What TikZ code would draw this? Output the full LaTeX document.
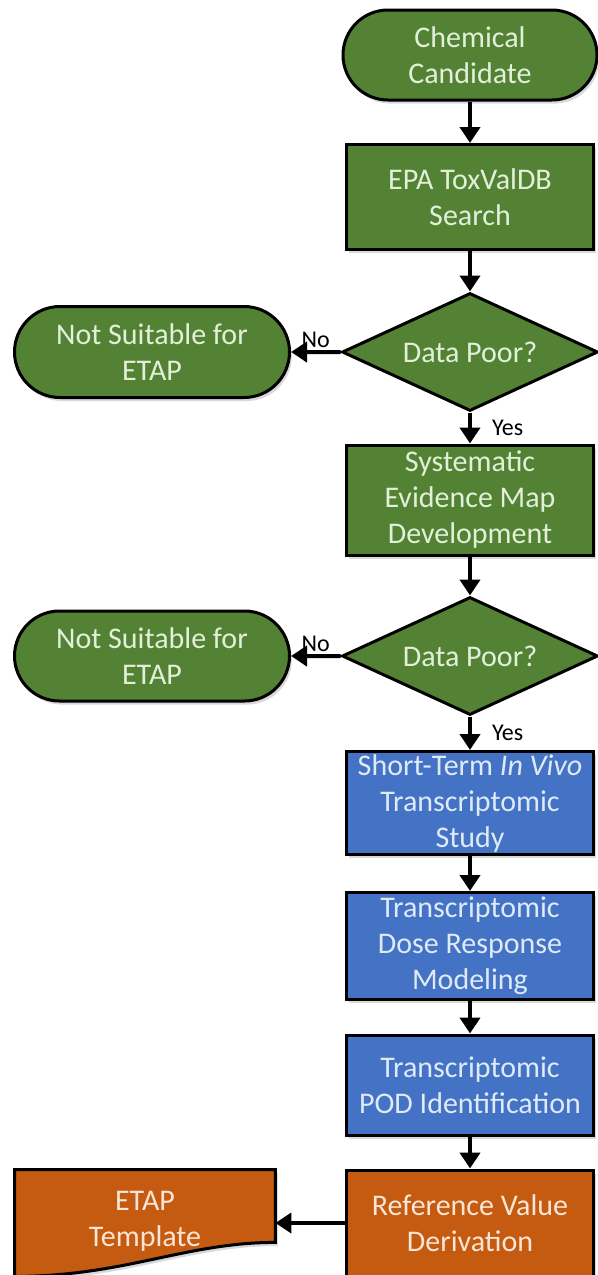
\documentclass[tikz,border=0pt]{standalone}
\usepackage{fontspec}
\setmainfont{Carlito}
\usetikzlibrary{shapes.geometric, shapes.misc, shadows, arrows.meta}
\definecolor{leafgreen}{HTML}{548235}
\definecolor{paleleaf}{HTML}{E2F0D9}
\definecolor{officeblue}{HTML}{4472C4}
\definecolor{paleblue}{HTML}{DEEBF7}
\definecolor{rust}{HTML}{C55A11}
\definecolor{palerust}{HTML}{FBE5D6}

\begin{document}
\begin{tikzpicture}[x=0.5pt, y=-0.5pt, >={Triangle[width=10pt, length=8pt]},
        shade/.style={drop shadow={shadow xshift=1.2pt, shadow yshift=-1.8pt, opacity=0.3}},
        stepbox/.style={rectangle, draw=black, line width=1.5pt, align=center, inner sep=0pt,
            minimum width=123.5pt, shade},
        terminal/.style={rounded rectangle, draw=black, line width=1.5pt, align=center, inner sep=0pt,
            fill=leafgreen, text=paleleaf, shade},
        decision/.style={diamond, aspect=2.17, draw=black, line width=1.5pt, align=center, inner sep=0pt,
            minimum width=128pt, minimum height=59pt, fill=leafgreen, text=paleleaf},
        greenbox/.style={stepbox, fill=leafgreen, text=paleleaf},
        bluebox/.style={stepbox, fill=officeblue, text=paleblue},
        rustbox/.style={stepbox, fill=rust, text=palerust},
        flow/.style={->, line width=2pt}]
        \fontsize{15}{18}\selectfont
        \useasboundingbox (0, 0) rectangle (598, 1275);

        \node [terminal, minimum width=127pt, minimum height=45pt] (chem) at (470, 55) {Chemical\\Candidate};
        \node [greenbox, minimum height=52.5pt] (tvdb) at (470, 197) {EPA ToxValDB\\Search};
        \node [decision] (poor1) at (470, 352) {Data Poor?};
        \node [terminal, minimum width=137.5pt, minimum height=45.5pt] (unfit1) at (152, 352) {Not Suitable for\\ETAP};
        \node [greenbox, minimum height=55pt] (sem) at (470, 500) {Systematic\\Evidence Map\\Development};
        \node [decision] (poor2) at (470, 656) {Data Poor?};
        \node [terminal, minimum width=137.5pt, minimum height=45pt] (unfit2) at (152, 656) {Not Suitable for\\ETAP};

        \node [bluebox, minimum height=51.5pt] (study) at (470, 803) {Short-Term \emph{In Vivo}\\Transcriptomic\\Study};
        \node [bluebox, minimum height=53.5pt] (dose) at (470, 946) {Transcriptomic\\Dose Response\\Modeling};
        \node [bluebox, minimum height=50pt] (pod) at (470, 1085) {Transcriptomic\\POD Identification};

        \node [rustbox, minimum height=53pt] (refval) at (470, 1223) {Reference Value\\Derivation};
        \node [align=center, inner sep=0pt, minimum width=130pt, minimum height=53pt, text=palerust] (tmpl) at (145, 1223) {};
        \draw [line width=1.5pt, fill=rust, shade] (tmpl.north west) -- (tmpl.north east) -- ([yshift=17pt]tmpl.south east)
            .. controls ([xshift=-45pt, yshift=17pt]tmpl.south east) and ([xshift=55pt]tmpl.south west) .. (tmpl.south west) -- cycle;
        \node [align=center, text=palerust] at ([yshift=1pt]tmpl.center) {ETAP\\Template};

        \draw [flow] (chem) -- (tvdb);
        \draw [flow] (tvdb) -- (poor1);
        \fontsize{12}{14}\selectfont
        \draw [flow] (poor1) -- (unfit1) node [midway, above, inner sep=1pt] {No};
        \draw [flow] (poor1) -- (sem) node [midway, right=9pt, inner sep=1pt] {Yes};
        \draw [flow] (sem) -- (poor2);
        \draw [flow] (poor2) -- (unfit2) node [midway, above, inner sep=1pt] {No};
        \draw [flow] (poor2) -- (study) node [midway, right=9pt, inner sep=1pt] {Yes};
        \draw [flow] (study) -- (dose);
        \draw [flow] (dose) -- (pod);
        \draw [flow] (pod) -- (refval);
        \draw [flow] (refval) -- (tmpl);
\end{tikzpicture}
\end{document}
